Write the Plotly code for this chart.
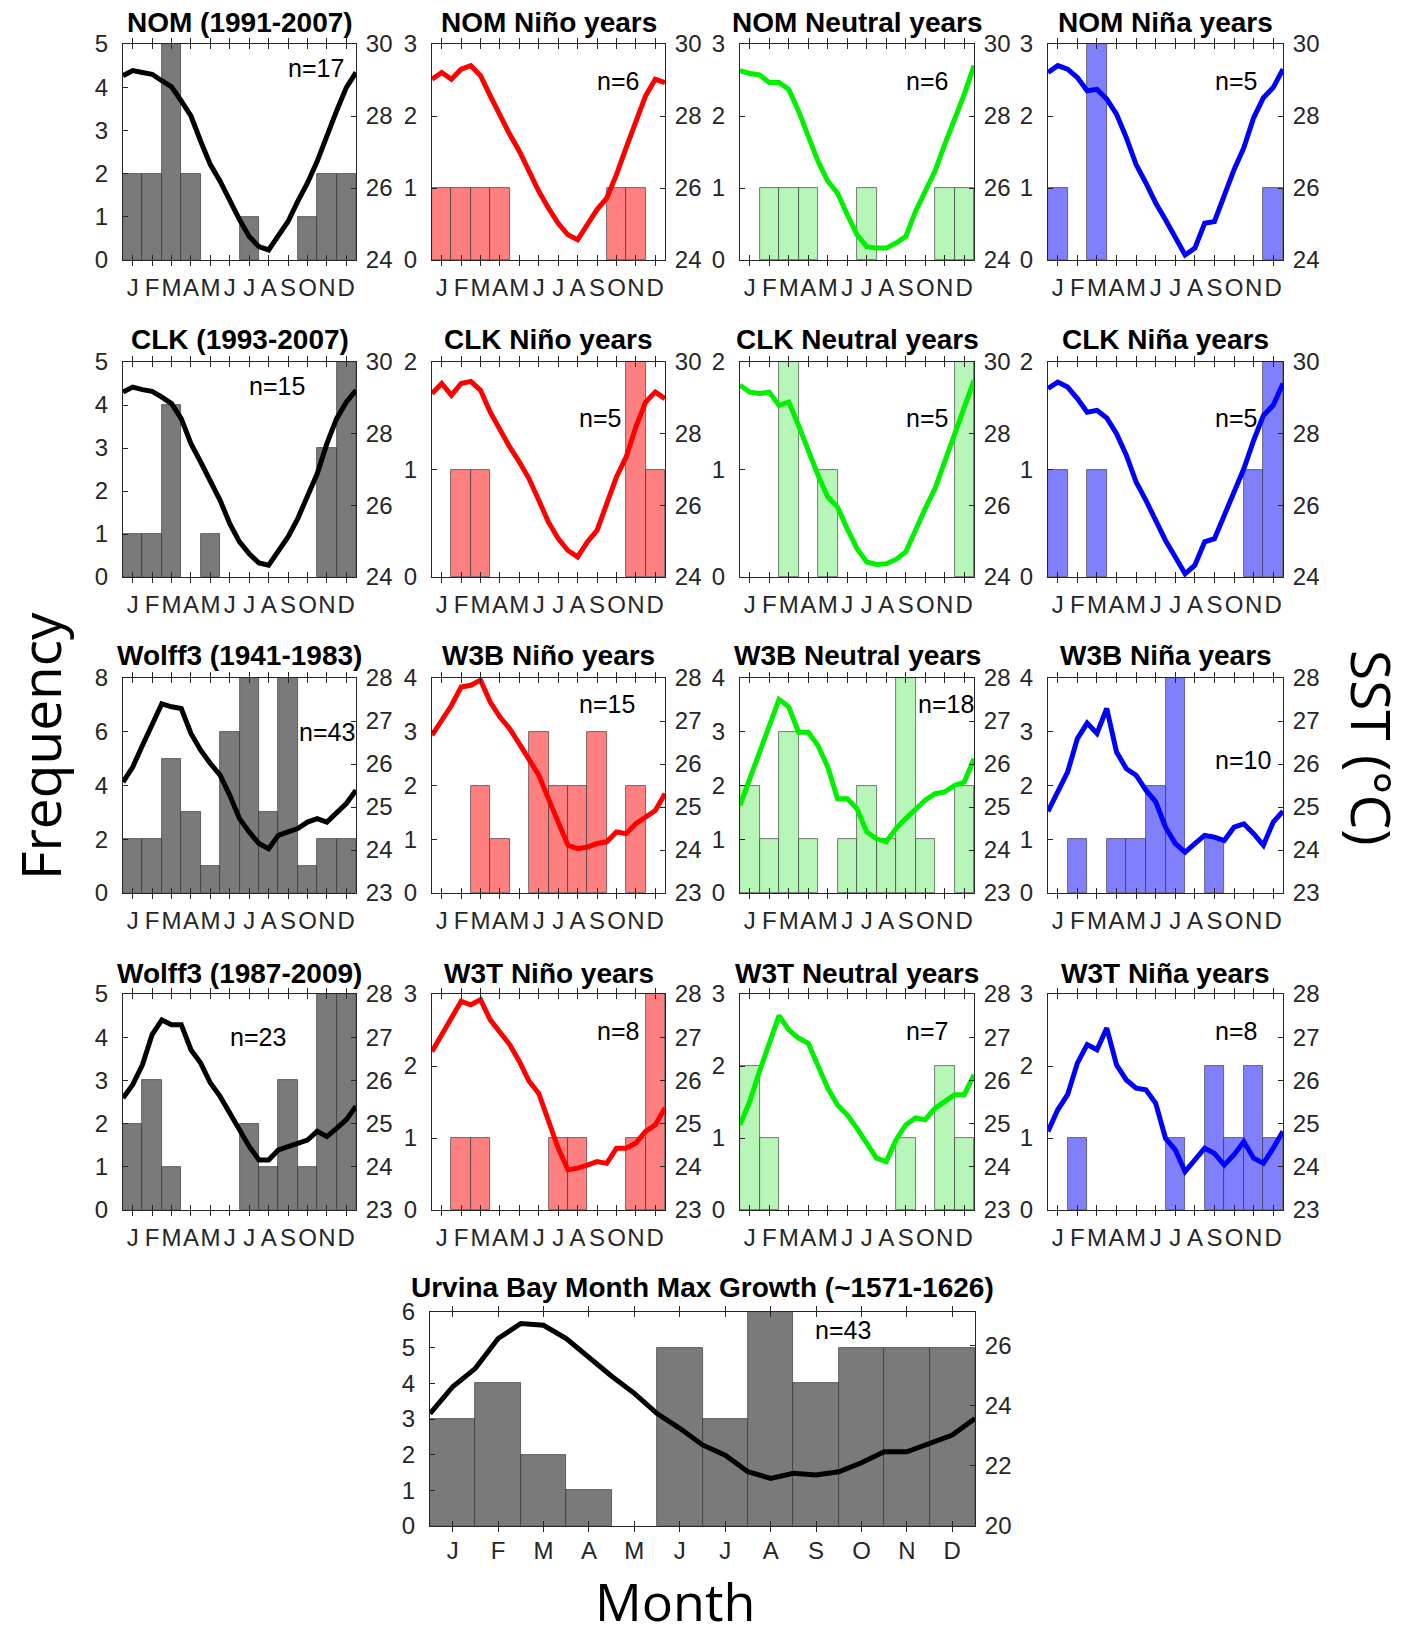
import plotly.graph_objects as go

W, H = 1411, 1637

# ---------------- data ----------------
MONTHS = [1, 2, 3, 4, 5, 6, 7, 8, 9, 10, 11, 12]
MONTH_LABELS = ["J", "F", "M", "A", "M", "J", "J", "A", "S", "O", "N", "D"]
SST_X = [0.5, 1.0, 1.5, 2.0, 2.5, 3.0, 3.5, 4.0, 4.5, 5.0, 5.5, 6.0, 6.5,
         7.0, 7.5, 8.0, 8.5, 9.0, 9.5, 10.0, 10.5, 11.0, 11.5, 12.0, 12.5]

nom_all = [2, 2, 5, 2, 0, 0, 1, 0, 0, 1, 2, 2]
nom_nino = [1, 1, 1, 1, 0, 0, 0, 0, 0, 1, 1, 0]
nom_neut = [0, 1, 1, 1, 0, 0, 1, 0, 0, 0, 1, 1]
nom_nina = [1, 0, 3, 0, 0, 0, 0, 0, 0, 0, 0, 1]
clk_all = [1, 1, 4, 0, 1, 0, 0, 0, 0, 0, 3, 5]
clk_nino = [0, 1, 1, 0, 0, 0, 0, 0, 0, 0, 2, 1]
clk_neut = [0, 0, 2, 0, 1, 0, 0, 0, 0, 0, 0, 2]
clk_nina = [1, 0, 1, 0, 0, 0, 0, 0, 0, 0, 1, 2]
w3b_all = [2, 2, 5, 3, 1, 6, 8, 3, 8, 1, 2, 2]
w3b_nino = [0, 0, 2, 1, 0, 3, 2, 2, 3, 0, 2, 0]
w3b_neut = [2, 1, 3, 1, 0, 1, 2, 1, 4, 1, 0, 2]
w3b_nina = [0, 1, 0, 1, 1, 2, 4, 0, 1, 0, 0, 0]
w3t_all = [2, 3, 1, 0, 0, 0, 2, 1, 3, 1, 5, 5]
w3t_nino = [0, 1, 1, 0, 0, 0, 1, 1, 0, 0, 1, 3]
w3t_neut = [2, 1, 0, 0, 0, 0, 0, 0, 1, 0, 2, 1]
w3t_nina = [0, 1, 0, 0, 0, 0, 1, 0, 2, 1, 2, 1]
urvina = [3, 4, 2, 1, 0, 5, 3, 6, 4, 5, 5, 5]

nom_sst = [29.12, 29.26, 29.21, 29.16, 28.98, 28.81, 28.42, 28.00, 27.30, 26.65, 26.19, 25.63, 25.12,
           24.65, 24.37, 24.28, 24.65, 25.07, 25.63, 26.14, 26.74, 27.49, 28.14, 28.79, 29.21]
nom_nino_sst = [29.02, 29.21, 29.02, 29.30, 29.40, 29.12, 28.56, 28.00, 27.49, 27.02, 26.47, 25.91, 25.44,
                25.02, 24.70, 24.56, 24.98, 25.40, 25.72, 26.37, 27.12, 27.86, 28.56, 29.02, 28.93]
nom_neut_sst = [29.26, 29.18, 29.14, 28.93, 28.93, 28.74, 28.14, 27.40, 26.74, 26.19, 25.86, 25.26, 24.70,
                24.37, 24.33, 24.33, 24.47, 24.65, 25.35, 25.91, 26.47, 27.21, 27.86, 28.60, 29.40]
nom_nina_sst = [29.21, 29.40, 29.30, 29.07, 28.70, 28.74, 28.47, 28.05, 27.40, 26.65, 26.14, 25.58, 25.12,
                24.60, 24.14, 24.33, 25.02, 25.07, 25.81, 26.51, 27.12, 27.95, 28.51, 28.79, 29.30]
clk_sst = [29.16, 29.30, 29.23, 29.18, 29.02, 28.84, 28.42, 27.72, 27.21, 26.65, 26.14, 25.49, 24.98,
           24.65, 24.39, 24.33, 24.70, 25.12, 25.63, 26.23, 26.88, 27.72, 28.42, 28.88, 29.21]
clk_nino_sst = [29.12, 29.40, 29.07, 29.40, 29.46, 29.21, 28.60, 28.09, 27.63, 27.21, 26.74, 26.14, 25.53,
                25.07, 24.74, 24.56, 24.98, 25.30, 26.00, 26.79, 27.35, 28.19, 28.88, 29.16, 28.98]
clk_neut_sst = [29.35, 29.16, 29.12, 29.16, 28.79, 28.88, 28.23, 27.49, 26.84, 26.23, 25.95, 25.35, 24.79,
                24.42, 24.35, 24.37, 24.49, 24.70, 25.35, 25.91, 26.47, 27.21, 27.91, 28.70, 29.49]
clk_nina_sst = [29.26, 29.44, 29.30, 28.98, 28.60, 28.65, 28.44, 28.00, 27.40, 26.65, 26.14, 25.58, 25.02,
                24.56, 24.09, 24.33, 24.98, 25.07, 25.72, 26.42, 27.02, 27.81, 28.51, 28.79, 29.40]
w3b_sst = [25.58, 25.93, 26.43, 26.94, 27.40, 27.33, 27.29, 26.71, 26.32, 26.01, 25.74, 25.27, 24.73,
           24.42, 24.15, 24.03, 24.34, 24.42, 24.50, 24.65, 24.73, 24.65, 24.88, 25.08, 25.39]
w3b_nino_sst = [26.67, 27.02, 27.36, 27.79, 27.83, 27.95, 27.44, 27.09, 26.82, 26.47, 26.09, 25.74, 25.19,
                24.65, 24.11, 24.03, 24.07, 24.15, 24.19, 24.42, 24.38, 24.61, 24.77, 24.92, 25.31]
w3b_neut_sst = [25.04, 25.66, 26.24, 26.90, 27.50, 27.33, 26.74, 26.74, 26.43, 25.93, 25.19, 25.19, 24.96,
                24.42, 24.26, 24.19, 24.50, 24.73, 24.96, 25.16, 25.31, 25.35, 25.50, 25.58, 26.12]
w3b_nina_sst = [24.90, 25.35, 25.81, 26.59, 26.95, 26.71, 27.29, 26.28, 25.89, 25.74, 25.39, 25.12, 24.53,
                24.15, 23.95, 24.15, 24.34, 24.30, 24.22, 24.53, 24.61, 24.38, 24.11, 24.65, 24.90]
w3t_sst = [25.59, 25.90, 26.36, 27.06, 27.40, 27.29, 27.29, 26.71, 26.40, 25.94, 25.63, 25.24, 24.85,
           24.47, 24.16, 24.16, 24.39, 24.47, 24.55, 24.62, 24.82, 24.70, 24.89, 25.09, 25.40]
w3t_nino_sst = [26.67, 27.06, 27.44, 27.83, 27.75, 27.87, 27.40, 27.10, 26.83, 26.44, 25.98, 25.70, 25.05,
                24.43, 23.93, 23.97, 24.04, 24.12, 24.08, 24.43, 24.43, 24.55, 24.82, 24.97, 25.36]
w3t_neut_sst = [24.97, 25.51, 26.21, 26.90, 27.50, 27.17, 26.98, 26.86, 26.36, 25.82, 25.43, 25.20, 24.89,
                24.55, 24.20, 24.12, 24.62, 24.97, 25.13, 25.09, 25.36, 25.51, 25.67, 25.67, 26.13]
w3t_nina_sst = [24.82, 25.32, 25.67, 26.40, 26.83, 26.71, 27.21, 26.36, 26.01, 25.82, 25.78, 25.47, 24.66,
                24.39, 23.89, 24.16, 24.43, 24.31, 24.04, 24.28, 24.58, 24.20, 24.08, 24.43, 24.82]
urvina_sst = [23.73, 24.62, 25.23, 26.22, 26.72, 26.66, 26.22, 25.59, 24.97, 24.40, 23.73, 23.24, 22.69,
              22.35, 21.80, 21.58, 21.75, 21.69, 21.80, 22.10, 22.46, 22.46, 22.72, 23.02, 23.57]

TITLES = ["NOM (1991-2007)", "NOM Niño years", "NOM Neutral years", "NOM Niña years",
          "CLK (1993-2007)", "CLK Niño years", "CLK Neutral years", "CLK Niña years",
          "Wolff3 (1941-1983)", "W3B Niño years", "W3B Neutral years", "W3B Niña years",
          "Wolff3 (1987-2009)", "W3T Niño years", "W3T Neutral years", "W3T Niña years",
          "Urvina Bay Month Max Growth (~1571-1626)"]
N_LABELS = ["n=17", "n=6", "n=6", "n=5", "n=15", "n=5", "n=5", "n=5",
            "n=43", "n=15", "n=18", "n=10", "n=23", "n=8", "n=7", "n=8", "n=43"]

# ---------------- styles / layout ----------------
SCHEMES = {
    "black": ("#7a7a7a", "#000000"),
    "red": ("#ff8080", "#ff0000"),
    "green": ("#b8f5b8", "#00f000"),
    "blue": ("#8080ff", "#0000ff"),
}
COLS = [(123, 356), (432, 665), (740, 974), (1048, 1283)]
ROWS = [(44, 260), (362, 577), (678, 893), (994, 1210)]
TITLE_Y = [22, 340, 655, 973]

counts_list = [nom_all, nom_nino, nom_neut, nom_nina, clk_all, clk_nino, clk_neut, clk_nina,
               w3b_all, w3b_nino, w3b_neut, w3b_nina, w3t_all, w3t_nino, w3t_neut, w3t_nina, urvina]
sst_list = [nom_sst, nom_nino_sst, nom_neut_sst, nom_nina_sst, clk_sst, clk_nino_sst, clk_neut_sst,
            clk_nina_sst, w3b_sst, w3b_nino_sst, w3b_neut_sst, w3b_nina_sst, w3t_sst, w3t_nino_sst,
            w3t_neut_sst, w3t_nina_sst, urvina_sst]
scheme_order = ["black", "red", "green", "blue"]
left_max = [5, 3, 3, 3, 5, 2, 2, 2, 8, 4, 4, 4, 5, 3, 3, 3, 6]
left_step = [1, 1, 1, 1, 1, 1, 1, 1, 2, 1, 1, 1, 1, 1, 1, 1, 1]
n_pos = [(0.83, 0.89), (0.80, 0.83), (0.80, 0.83), (0.80, 0.83),
         (0.66, 0.89), (0.72, 0.74), (0.80, 0.74), (0.80, 0.74),
         (0.875, 0.75), (0.75, 0.88), (0.88, 0.88), (0.83, 0.62),
         (0.58, 0.80), (0.80, 0.83), (0.80, 0.83), (0.80, 0.83),
         (0.757, 0.915)]

FONT = "Liberation Sans, Arial, sans-serif"
TICK_FONT = dict(family=FONT, size=24, color="#262626")
AX_COLOR = "#262626"

fig = go.Figure()
layout = {}
annotations = []


def fx(px):
    return px / W


def fy(py):
    return 1 - py / H


for k in range(17):
    xi = k + 1
    yl = 2 * k + 1
    yr = 2 * k + 2
    xref = "x" if xi == 1 else f"x{xi}"
    ylref = "y" if yl == 1 else f"y{yl}"
    yrref = f"y{yr}"
    if k < 16:
        r, c = divmod(k, 4)
        x0, x1 = COLS[c]
        y0, y1 = ROWS[r]
        scheme = scheme_order[c]
        ty = TITLE_Y[r]
        xstand = 6
        if r < 2:
            rr, rticks = [24, 30], [24, 26, 28, 30]
        else:
            rr, rticks = [23, 28], [23, 24, 25, 26, 27, 28]
    else:
        x0, x1 = 430, 975
        y0, y1 = 1312, 1526
        scheme = "black"
        ty = 1287
        xstand = 3
        rr, rticks = [20, 27.1], [20, 22, 24, 26]
    bar_c, line_c = SCHEMES[scheme]

    counts = counts_list[k]
    bx = [m for m, v in zip(MONTHS, counts) if v > 0]
    by = [v for v in counts if v > 0]
    fig.add_trace(go.Bar(x=bx, y=by, width=1,
                         marker=dict(color=bar_c, line=dict(color="rgba(40,40,40,0.75)", width=0.8)),
                         xaxis=xref, yaxis=ylref, showlegend=False, hoverinfo="skip"))
    fig.add_trace(go.Scatter(x=SST_X, y=sst_list[k], mode="lines",
                             line=dict(color=line_c, width=5),
                             xaxis=xref, yaxis=yrref, showlegend=False, hoverinfo="skip"))

    layout["xaxis" if xi == 1 else f"xaxis{xi}"] = dict(
        domain=[fx(x0), fx(x1)], anchor=ylref, range=[0.5, 12.5],
        tickmode="array", tickvals=MONTHS, ticktext=MONTH_LABELS, tickangle=0,
        ticks="inside", ticklen=5, tickcolor=AX_COLOR, tickwidth=1,
        showline=True, linecolor=AX_COLOR, linewidth=1, mirror="allticks",
        showgrid=False, zeroline=False, tickfont=TICK_FONT, ticklabelstandoff=xstand,
        automargin=False)
    lm, ls = left_max[k], left_step[k]
    layout["yaxis" if yl == 1 else f"yaxis{yl}"] = dict(
        domain=[fy(y1), fy(y0)], anchor=xref, range=[0, lm],
        tickmode="array", tickvals=list(range(0, lm + 1, ls)),
        ticks="inside", ticklen=5, tickcolor=AX_COLOR, tickwidth=1,
        showline=True, linecolor=AX_COLOR, linewidth=1, side="left",
        showgrid=False, zeroline=False, tickfont=TICK_FONT, ticklabelstandoff=9,
        automargin=False)
    layout[f"yaxis{yr}"] = dict(
        overlaying=ylref, anchor=xref, range=rr, side="right",
        tickmode="array", tickvals=rticks,
        ticks="inside", ticklen=5, tickcolor=AX_COLOR, tickwidth=1,
        showline=True, linecolor=AX_COLOR, linewidth=1,
        showgrid=False, zeroline=False, tickfont=TICK_FONT, ticklabelstandoff=4,
        automargin=False)

    annotations.append(dict(text=f"<b>{TITLES[k]}</b>", x=fx((x0 + x1) / 2), y=fy(ty),
                            xref="paper", yref="paper", xanchor="center", yanchor="middle",
                            showarrow=False,
                            font=dict(family=FONT, size=28, color="#000000")))
    nx, ny = n_pos[k]
    annotations.append(dict(text=N_LABELS[k], x=nx, y=ny,
                            xref=f"{xref} domain", yref=f"{ylref} domain",
                            xanchor="center", yanchor="middle", showarrow=False,
                            font=dict(family=FONT, size=25, color="#000000")))

BIG_FAMILY = "Open Sans, Noto Sans, sans-serif"
annotations.append(dict(text="Frequency", x=fx(40), y=fy(746), xref="paper", yref="paper",
                        textangle=-90, showarrow=False, xanchor="center", yanchor="middle",
                        font=dict(family=BIG_FAMILY, size=55, color="#000000")))
annotations.append(dict(text="SST (°C)", x=fx(1373), y=fy(748), xref="paper", yref="paper",
                        textangle=90, showarrow=False, xanchor="center", yanchor="middle",
                        font=dict(family=BIG_FAMILY, size=55, color="#000000")))
annotations.append(dict(text="Month", x=fx(675), y=fy(1600), xref="paper", yref="paper",
                        showarrow=False, xanchor="center", yanchor="middle",
                        font=dict(family=BIG_FAMILY, size=52, color="#000000")))

fig.update_layout(**layout)
fig.update_layout(width=W, height=H, margin=dict(l=0, r=0, t=0, b=0, pad=0),
                  paper_bgcolor="white", plot_bgcolor="white",
                  showlegend=False, annotations=annotations, bargap=0)

fig.write_html("out.html")
